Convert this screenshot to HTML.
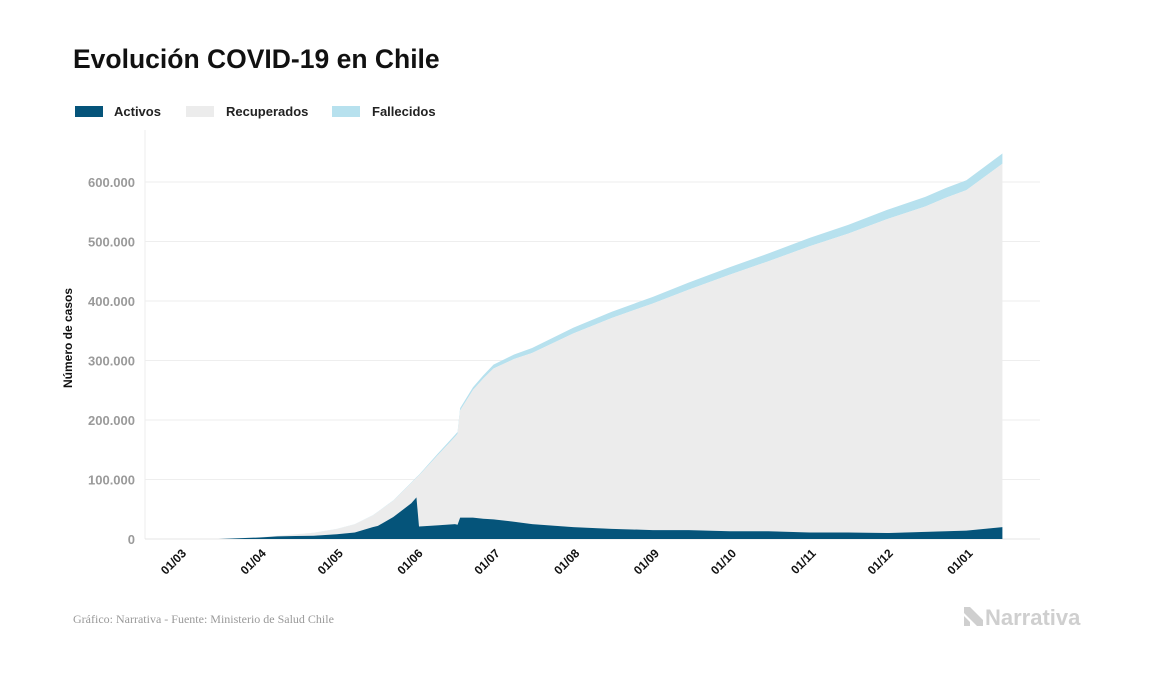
<!DOCTYPE html>
<html><head><meta charset="utf-8"><style>
body{margin:0;background:#fff;width:1157px;height:674px;overflow:hidden;font-family:"Liberation Sans",sans-serif}
</style></head><body>
<svg id="chart" width="1157" height="674" xmlns="http://www.w3.org/2000/svg" font-family="Liberation Sans, sans-serif">
<text x="73" y="68" font-size="26.5" font-weight="bold" fill="#111">Evolución COVID-19 en Chile</text>
<g font-size="13" font-weight="bold" fill="#222">
<g><rect x="75" y="106" width="28" height="11" fill="#05547a"/><text x="114" y="116">Activos</text></g>
<g><rect x="186" y="106" width="28" height="11" fill="#ececec"/><text x="226" y="116">Recuperados</text></g>
<g><rect x="332" y="106" width="28" height="11" fill="#b7e1ee"/><text x="372" y="116">Fallecidos</text></g>
</g>
<g id="grid"></g>
<g id="areas"></g>
<g id="yaxis"></g>
<g id="xaxis"></g>
<text transform="translate(72,338) rotate(-90)" text-anchor="middle" font-size="12" font-weight="bold" fill="#111">Número de casos</text>
<text x="73" y="623" font-family="Liberation Serif, serif" font-size="12" fill="#999">Gráfico: Narrativa - Fuente: Ministerio de Salud Chile</text>
<g>
<path d="M964 607 L970 607 L983 620 L983 607 L983 626 L977 626 L964 613 Z M964 616 L970 622 L970 626 L964 626 Z" fill="#cfcfcf"/>
<text x="985" y="625" font-size="22" font-weight="bold" fill="#cfcfcf">Narrativa</text>
</g>
</svg>
<script>
const days=[2,15,31,38,45,52,61,68,75,77,83,90,92,93,100,107,108,109,114,118,122,130,137,153,168,184,198,214,229,245,260,275,290,298,306,320];
const totalK=[0.01,0.1,3,5.5,8,10.5,17,25,40,46,65,95,104,108,142,175,180,220,255,275,293,310,321,355,382,407,431,457,480,506,528,553,575,590,603,648];
const activeK=[0.01,0.1,2.5,4.5,5,5.5,8,11,20,22,37,60,70,21,23,25,24,36,36,34,33,29,25,20,17,15,15,13,13,11,11,10,12,13,14,20];
const deathsK=[0,0,0.01,0.05,0.1,0.15,0.23,0.28,0.4,0.45,0.7,1,1.1,1.2,2.5,3.4,3.4,4,4.5,5.5,6.5,7.5,8.3,9.7,10.5,11.2,11.9,12.6,13.2,14,14.8,15.6,16.1,16.4,16.6,17.4];
const yTicks=[0,100000,200000,300000,400000,500000,600000];
const monthLabels=["01/03","01/04","01/05","01/06","01/07","01/08","01/09","01/10","01/11","01/12","01/01"];
const monthDays=[0,31,61,92,122,153,184,214,245,275,306];
const NS="http://www.w3.org/2000/svg";
const x=d=>180+d*2.57;
const y=v=>539-v*59.5/100000;
const fmt=v=>v===0?"0":(v/1000)+".000";
const grid=document.getElementById('grid'),areas=document.getElementById('areas'),ya=document.getElementById('yaxis'),xa=document.getElementById('xaxis');
const vl=document.createElementNS(NS,'line');


vl.setAttribute('x1',145);vl.setAttribute('x2',145);vl.setAttribute('y1',130);vl.setAttribute('y2',539);vl.setAttribute('stroke','#eee');
grid.appendChild(vl);
yTicks.forEach(t=>{
 const l=document.createElementNS(NS,'line');
 
 
 l.setAttribute('x1',145);l.setAttribute('x2',1040);l.setAttribute('y1',y(t));l.setAttribute('y2',y(t));
 l.setAttribute('stroke',t===0?'#e4e4e4':'#eeeeee');
 grid.appendChild(l);
 const tx=document.createElementNS(NS,'text');
 
 
 tx.setAttribute('x',135);tx.setAttribute('y',y(t)+5);tx.setAttribute('text-anchor','end');
 tx.setAttribute('font-size','13');tx.setAttribute('font-weight','bold');tx.setAttribute('fill','#9a9a9a');
 tx.textContent=fmt(t);ya.appendChild(tx);
});
function area(top,bot,fill,name){
 let d='M'+x(days[0])+','+y(top[0]*1000);
 for(let i=1;i<days.length;i++)d+=' L'+x(days[i])+','+y(top[i]*1000);
 for(let i=days.length-1;i>=0;i--)d+=' L'+x(days[i])+','+y(bot[i]*1000);
 const p=document.createElementNS(NS,'path');
 
 
 p.setAttribute('d',d+'Z');p.setAttribute('fill',fill);
 areas.appendChild(p);
}
const zero=days.map(()=>0);
const recTop=totalK.map((t,i)=>t-deathsK[i]);
area(totalK,recTop,'#b7e1ee','fallecidos-area');
area(recTop,activeK,'#ececec','recuperados-area');
area(activeK,zero,'#05547a','activos-area');
monthLabels.forEach((m,i)=>{
 const tx=document.createElementNS(NS,'text');
 
 
 const px=x(monthDays[i])+7,py=554;
 tx.setAttribute('transform','translate('+px+','+py+') rotate(-45)');
 tx.setAttribute('text-anchor','end');tx.setAttribute('font-size','12');tx.setAttribute('font-weight','bold');tx.setAttribute('fill','#111');
 tx.textContent=m;xa.appendChild(tx);
});
</script>
</body></html>
